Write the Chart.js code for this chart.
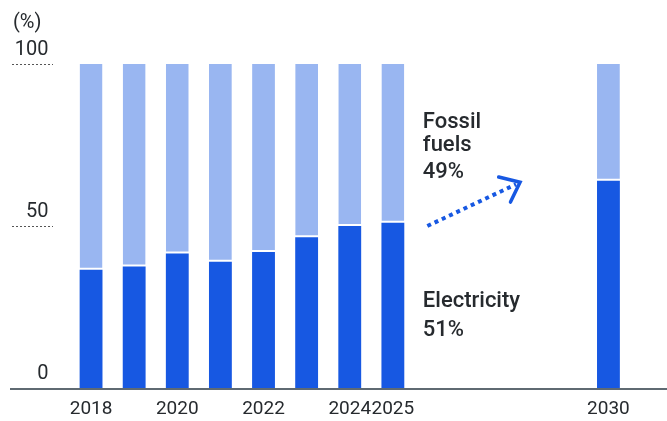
<!DOCTYPE html>
<html>
<head>
<meta charset="utf-8">
<script src="https://cdn.jsdelivr.net/npm/chart.js@4/dist/chart.umd.min.js"></script>
<style>
	html, body { margin: 0; padding: 0; background: #fff; }
	#wrap { width: 667px; height: 421px; position: relative; }
</style>
</head>
<body>
<div id="wrap"><canvas id="myChart"></canvas></div>
<script>
var years = ['2018', '2019', '2020', '2021', '2022', '2023', '2024', '2025', '2026', '2027', '2028', '2029', '2030'];
var electricity = [36.5, 37.5, 41.5, 39, 42, 46.5, 50, 51, null, null, null, null, 64];
var fossil = [63.5, 62.5, 58.5, 61, 58, 53.5, 50, 49, null, null, null, null, 36];
var shownYears = ['2018', '2020', '2022', '2024', '2025', '2030'];
var unitLabel = '(%)';
var fossilNote = ['Fossil', 'fuels', '49%'];
var electricityNote = ['Electricity', '51%'];

var darkBlue = '#1758e2';
var lightBlue = '#99b6f1';
var textColor = '#262a2e';

Chart.defaults.font.family = 'Roboto';

var decor = {
	id: 'decor',
	afterDraw: function(chart) {
		var c = chart.ctx;
		var x = chart.scales.x;
		var y = chart.scales.y;
		var area = chart.chartArea;
		c.save();

		// short dotted lines under the y labels
		c.strokeStyle = '#555';
		c.lineWidth = 1;
		c.setLineDash([2, 2]);
		[50, 100].forEach(function(v) {
			var py = Math.round(y.getPixelForValue(v)) + 0.5;
			c.beginPath();
			c.moveTo(12, py);
			c.lineTo(53, py);
			c.stroke();
		});
		c.setLineDash([]);

		// base line
		var by = y.getPixelForValue(0) + 1;
		c.strokeStyle = '#5f6a72';
		c.lineWidth = 2;
		c.beginPath();
		c.moveTo(10, by);
		c.lineTo(667, by);
		c.stroke();

		// unit
		c.fillStyle = textColor;
		c.font = '20px Roboto';
		c.textAlign = 'left';
		c.textBaseline = 'alphabetic';
		c.fillText(unitLabel, 13, 28);

		// notes
		var p25 = x.getPixelForValue(years.indexOf('2025'));
		var p30 = x.getPixelForValue(years.indexOf('2030'));
		var tx = p25 + 30;
		c.font = '500 22px Roboto';
		c.fillText(fossilNote[0], tx, area.top + 64);
		c.fillText(fossilNote[1], tx, area.top + 87);
		c.fillText(fossilNote[2], tx, area.top + 114);
		c.fillText(electricityNote[0], tx, area.bottom - 81);
		c.fillText(electricityNote[1], tx, area.bottom - 52);

		// dotted arrow
		var x0 = p25 + 0.16 * (p30 - p25);
		var y0 = y.getPixelForValue(50);
		var x1 = p25 + 0.59 * (p30 - p25);
		var y1 = y.getPixelForValue(63.5);
		c.strokeStyle = darkBlue;
		c.lineWidth = 4;
		c.setLineDash([4, 4]);
		c.beginPath();
		c.moveTo(x0, y0);
		c.lineTo(x1 - 4, y1 + 2);
		c.stroke();
		c.setLineDash([]);
		var ang = Math.atan2(y0 - y1, x0 - x1);
		var arm = 22;
		c.lineWidth = 3.5;
		c.lineCap = 'round';
		c.beginPath();
		c.moveTo(x1 + arm * Math.cos(ang + 0.68), y1 + arm * Math.sin(ang + 0.68));
		c.lineTo(x1, y1);
		c.lineTo(x1 + arm * Math.cos(ang - 0.68), y1 + arm * Math.sin(ang - 0.68));
		c.stroke();

		c.restore();
	}
};

var ctx = document.getElementById('myChart');

var data = {
	labels: years,
	datasets: [
		{
			label: 'Electricity',
			data: electricity,
			backgroundColor: darkBlue,
			borderWidth: 0,
			categoryPercentage: 1,
			barPercentage: 0.53
		},
		{
			label: 'Fossil fuels',
			data: fossil,
			backgroundColor: lightBlue,
			borderColor: '#ffffff',
			borderWidth: { top: 0, left: 0, right: 0, bottom: 2 },
			borderSkipped: false,
			categoryPercentage: 1,
			barPercentage: 0.53
		}
	]
};

var myChart = new Chart(ctx, {
	type: 'bar',
	data: data,
	options: {
		responsive: true,
		maintainAspectRatio: false,
		animation: false,
		layout: { padding: { top: 64, left: 10, right: 37, bottom: 0 } },
		plugins: {
			legend: { display: false },
			tooltip: { enabled: false }
		},
		scales: {
			x: {
				stacked: true,
				offset: true,
				border: { display: false },
				grid: { display: false, drawTicks: false },
				afterFit: function(scale) { scale.height = 32; },
				ticks: {
					color: textColor,
					font: { size: 19 },
					padding: 10,
					maxRotation: 0,
					autoSkip: false,
					callback: function(val, i) {
						var lab = years[i];
						return shownYears.indexOf(lab) >= 0 ? lab : '';
					}
				}
			},
			y: {
				stacked: true,
				min: 0,
				max: 100,
				border: { display: false },
				grid: { display: false, drawTicks: false },
				afterFit: function(scale) { scale.width = 59.5; },
				ticks: {
					stepSize: 50,
					color: textColor,
					font: { size: 20 },
					padding: 21,
					labelOffset: -14.5
				}
			}
		}
	},
	plugins: [decor]
});
</script>
</body>
</html>
